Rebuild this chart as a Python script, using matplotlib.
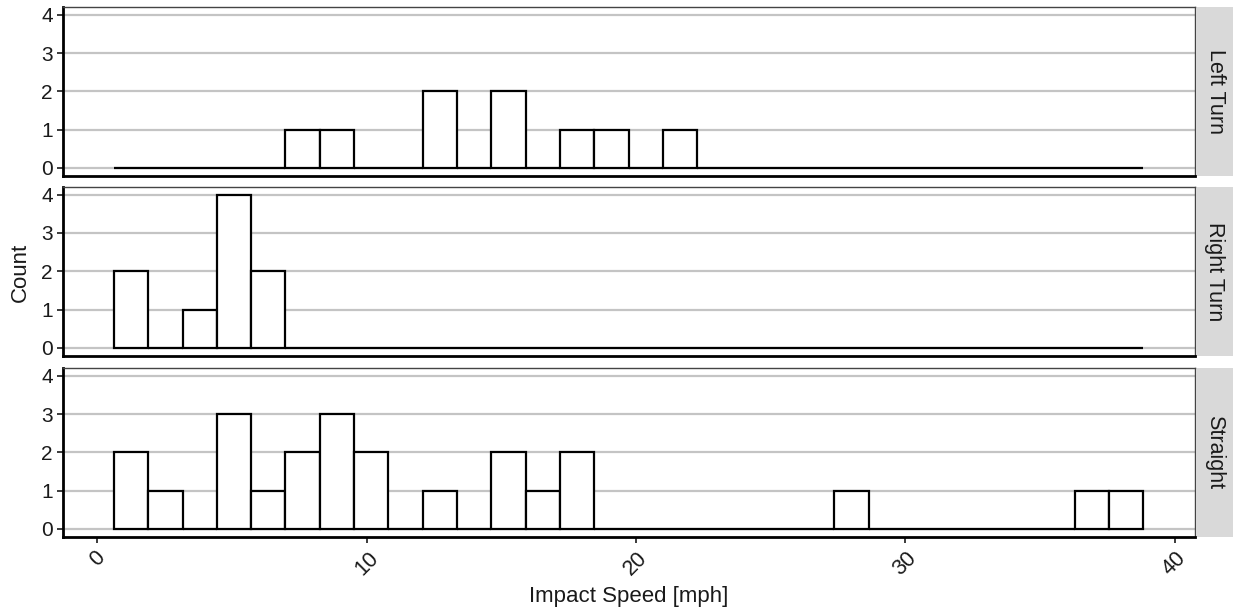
import numpy as np
import matplotlib.pyplot as plt

# histogram bins (30 bins, ggplot style)
bin_start = 0.62
bin_width = 1.274
n_bins = 30

panels = ['Left Turn', 'Right Turn', 'Straight']

left_turn = [0, 0, 0, 0, 0, 1, 1, 0, 0, 2, 0, 2, 0, 1, 1, 0, 1, 0, 0, 0,
             0, 0, 0, 0, 0, 0, 0, 0, 0, 0]
right_turn = [2, 0, 1, 4, 2, 0, 0, 0, 0, 0, 0, 0, 0, 0, 0, 0, 0, 0, 0, 0,
              0, 0, 0, 0, 0, 0, 0, 0, 0, 0]
straight = [2, 1, 0, 3, 1, 2, 3, 2, 0, 1, 0, 2, 1, 2, 0, 0, 0, 0, 0, 0,
            0, 1, 0, 0, 0, 0, 0, 0, 1, 1]

counts = [left_turn, right_turn, straight]
x_ticks = [0, 10, 20, 30, 40]
y_ticks = [0, 1, 2, 3, 4]

plt.rcParams['font.family'] = ['Liberation Sans', 'DejaVu Sans']

fig = plt.figure(figsize=(12.33, 6.11), dpi=100)

left, right = 62.5 / 1233, 1195 / 1233
panel_px = [(7.3, 175.5), (187, 355.5), (368.3, 536.5)]
strip_w = (1233 - 1197) / 1233
txt = '#1a1a1a'

edges = bin_start + bin_width * np.arange(n_bins)

for i, (name, c) in enumerate(zip(panels, counts)):
    top_px, bot_px = panel_px[i]
    b = 1 - bot_px / 611
    h = (bot_px - top_px) / 611
    ax = fig.add_axes([left, b, right - left, h])
    ax.bar(edges, c, width=bin_width, align='edge', facecolor='white',
           edgecolor='black', linewidth=1.6, zorder=3)
    ax.set_xlim(-1.29, 40.76)
    ax.set_ylim(-0.2, 4.2)
    ax.set_yticks(y_ticks)
    ax.set_xticks(x_ticks)
    ax.grid(axis='y', color='#c4c4c4', linewidth=1.6, zorder=0)
    ax.set_axisbelow(True)
    for s in ['top', 'right']:
        ax.spines[s].set_color('#444444')
        ax.spines[s].set_linewidth(1.0)
    for s in ['left', 'bottom']:
        ax.spines[s].set_color('black')
        ax.spines[s].set_linewidth(2.0)
    ax.tick_params(axis='y', labelsize=15, colors=txt, length=4, width=1.2, pad=3)
    if i < 2:
        ax.tick_params(axis='x', labelbottom=False, length=0)
    else:
        ax.tick_params(axis='x', labelsize=15.5, colors=txt, length=4, width=1.2, pad=4)
        for lab in ax.get_xticklabels():
            lab.set_rotation(45)
            lab.set_ha('center')
            lab.set_va('top')
        ax.set_xlabel('Impact Speed [mph]', fontsize=16, color=txt, labelpad=5)

    sax = fig.add_axes([1197 / 1233, b, strip_w, h])
    sax.set_facecolor('#d9d9d9')
    sax.set_xticks([])
    sax.set_yticks([])
    for s in sax.spines.values():
        s.set_visible(False)
    sax.text(0.5, 0.5, name, rotation=-90, ha='center', va='center',
             fontsize=15.5, color=txt, transform=sax.transAxes)

fig.text(20 / 1233, 1 - 272 / 611, 'Count', rotation=90, ha='center', va='center',
         fontsize=16, color=txt)

fig.savefig('out.png', dpi=100)
